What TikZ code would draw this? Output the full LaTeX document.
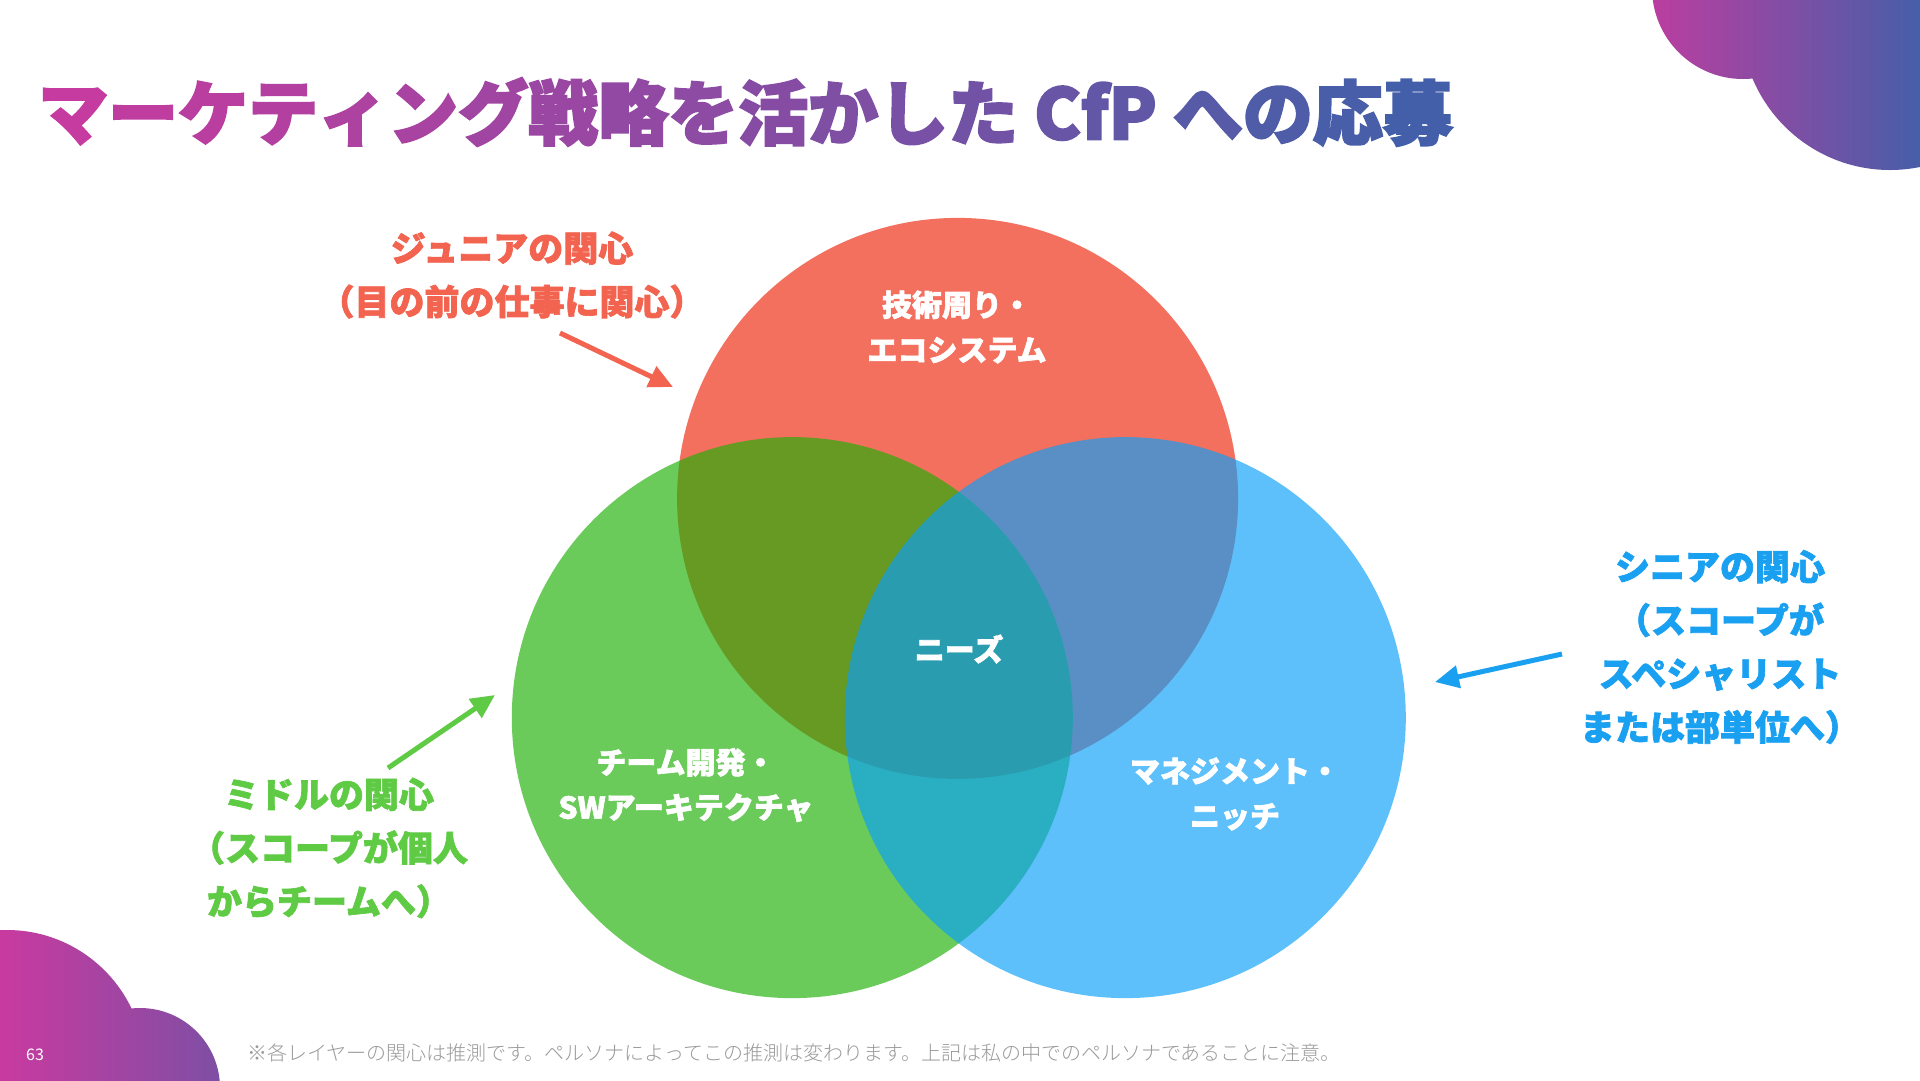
\documentclass[tikz,border=0pt]{standalone}
\usepackage{fontspec}
\usetikzlibrary{arrows.meta}
\newfontfamily\jp{Noto Sans CJK JP}
\newfontfamily\jpB{Noto Sans CJK JP}[BoldFeatures={FakeBold=2}]
\newfontfamily\jpT{Noto Sans CJK JP}[BoldFeatures={FakeBold=3}]
\newcommand\jpheavy{\jpB\bfseries}
\newcommand\jptitle{\jpT\bfseries}
\IfFontExistsTF{Noto Sans CJK JP Light}
 {\newfontfamily\jplight{Noto Sans CJK JP Light}}
 {\newcommand\jplight{\jp}}
\definecolor{cRed}{HTML}{F3705F}
\definecolor{cGreen}{HTML}{1DB005}
\definecolor{cBlue}{HTML}{0AA0F9}
\definecolor{tRed}{HTML}{F26450}
\definecolor{tGreen}{HTML}{5FCB45}
\definecolor{tBlue}{HTML}{1AA0F0}
\definecolor{tM}{HTML}{C93A9F}
\definecolor{tB}{HTML}{4060A9}
\definecolor{foot}{HTML}{9A9A9A}
\newcommand\gcc[2]{\textcolor{tB!#1!tM}{#2}}
\begin{document}
\begin{tikzpicture}[x=1pt,y=-1pt,
  lbl/.style={font=\jpheavy\fontsize{30}{45}\selectfont, text=white, align=center, inner sep=0},
  side/.style={font=\jpheavy\fontsize{35}{53.5}\selectfont, align=center, inner sep=0},
  arr/.style={line width=5pt, -{Triangle[length=24pt,width=22pt]}},
  venn/.style={circle, minimum size=561pt, inner sep=0, draw=none}]
\useasboundingbox[fill=white] (0,0) rectangle (1920,1080);
% corner blobs
\begin{scope}
  \clip (1743,-12) circle (91) (1890,21) circle (149);
  \shade[left color=tM!90!tB, right color=tB!95!tM] (1650,-5) rectangle (1920,175);
\end{scope}
\begin{scope}
  \clip (7,1068) circle (138) (140,1088) circle (80);
  \shade[left color=tM, right color=tB!55!tM] (0,925) rectangle (222,1080);
\end{scope}
% title
\node[anchor=west, inner sep=0, font=\jptitle\fontsize{70}{72}\selectfont] (title) at (38,112)
 {\gcc{2}{マ}\gcc{7}{ー}\gcc{11}{ケ}\gcc{16}{テ}\gcc{20}{ィ}\gcc{24}{ン}\gcc{29}{グ}\gcc{35}{戦}\gcc{40}{略}\gcc{44}{を}\gcc{49}{活}\gcc{54}{か}\gcc{59}{し}\gcc{64}{た} \gcc{71}{C}\gcc{75}{f}\gcc{77}{P} \gcc{84}{へ}\gcc{89}{の}\gcc{94}{応}\gcc{98}{募}};
% venn circles
\node[venn, fill=cRed] (red) at (957.6,498.4) {};
\node[venn, fill=cGreen, fill opacity=0.66] (green) at (792.3,717.6) {};
\node[venn, fill=cBlue, fill opacity=0.66] (blue) at (1125.3,717.6) {};
% circle labels
\node[lbl] (tech) at (957,327) {技術周り・\\エコシステム};
\node[lbl] (needs) at (959,649) {ニーズ};
\node[lbl] (team) at (686,785) {チーム開発・\\SWアーキテクチャ};
\node[lbl] (mgmt) at (1235,794) {マネジメント・\\ニッチ};
% side labels
\node[side, text=tRed] (junior) at (512,275) {ジュニアの関心\\（目の前の仕事に関心）};
\node[side, text=tGreen] (middle) at (329,848) {ミドルの関心\\（スコープが個人\\からチームへ）};
\node[side, text=tBlue] (senior) at (1720,647) {シニアの関心\\（スコープが\\スペシャリスト\\または部単位へ）};
% arrows
\coordinate (jA) at (560,333); \coordinate (jB) at (673,387);
\coordinate (mA) at (388,768); \coordinate (mB) at (495,695);
\coordinate (sA) at (1562,654); \coordinate (sB) at (1435,682);
\draw[arr, tRed] (jA) -- (jB);
\draw[arr, tGreen] (mA) -- (mB);
\draw[arr, tBlue] (sA) -- (sB);
% footer
\node[anchor=west, inner sep=0, text=white, font=\jp\fontsize{16}{18}\selectfont] (page) at (26,1055) {63};
\node[anchor=west, inner sep=0, text=foot, font=\jplight\fontsize{20}{24}\selectfont] (note) at (247,1053)
 {※各レイヤーの関心は推測です。ペルソナによってこの推測は変わります。上記は私の中でのペルソナであることに注意。};
\end{tikzpicture}
\end{document}
